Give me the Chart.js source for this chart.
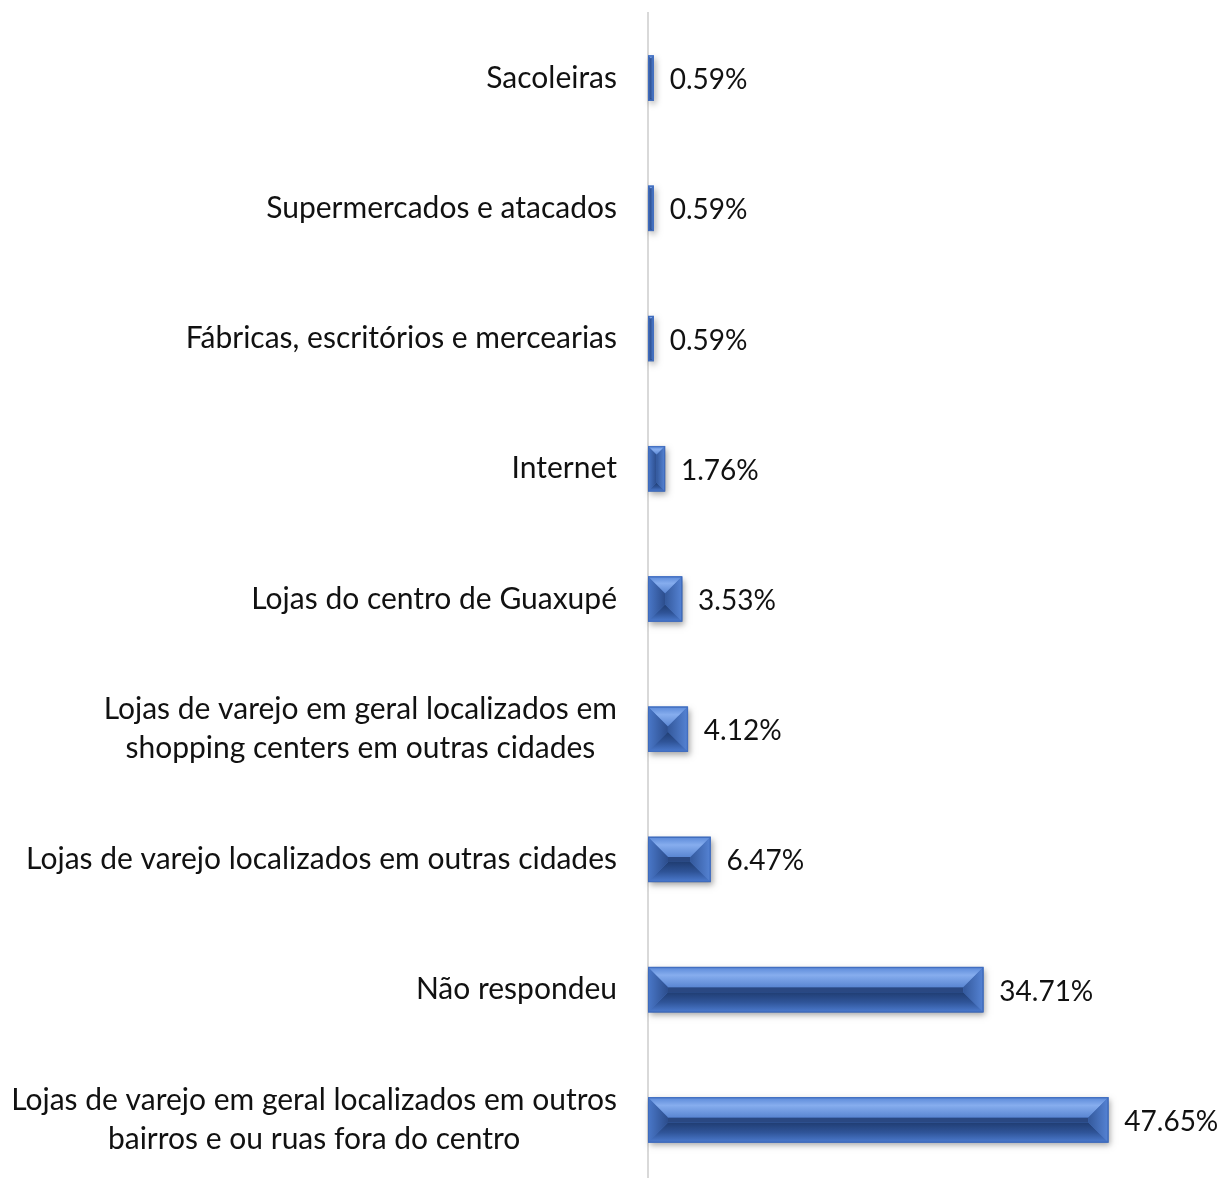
<!DOCTYPE html>
<html>
<head>
<meta charset="utf-8">
<script src="https://cdn.jsdelivr.net/npm/chart.js@4.4.0/dist/chart.umd.min.js"></script>
<style>
    html, body { margin: 0; padding: 0; background: #fff; overflow: hidden; }
    #box { position: absolute; left: 0; top: 0; width: 1224px; height: 1185px; }
</style>
</head>
<body>
<div id="box"><canvas id="grafico"></canvas></div>
<script>
// Categorias (de cima para baixo) e percentuais
const categorias = [
    ["Sacoleiras"],
    ["Supermercados e atacados"],
    ["Fábricas, escritórios e mercearias"],
    ["Internet"],
    ["Lojas do centro de Guaxupé"],
    ["Lojas de varejo em geral localizados em", "shopping centers em outras cidades"],
    ["Lojas de varejo localizados em outras cidades"],
    ["Não respondeu"],
    ["Lojas de varejo em geral localizados em outros", "bairros e ou ruas fora do centro"]
];
const percentuais = [0.59, 0.59, 0.59, 1.76, 3.53, 4.12, 6.47, 34.71, 47.65];
const eixoMin = 0;
const eixoMax = 50;

const FONTE_ROTULO = "30px Lato, 'Open Sans', sans-serif";
const FONTE_VALOR = "28px Lato, 'Open Sans', sans-serif";

// Rótulos das categorias: bloco alinhado à direita, linhas centralizadas
const rotulosCategorias = {
    id: "rotulosCategorias",
    afterDraw(chart) {
        const ctx = chart.ctx;
        const y = chart.scales.y;
        ctx.save();
        ctx.font = FONTE_ROTULO;
        ctx.fillStyle = "#111";
        ctx.textBaseline = "middle";
        ctx.textAlign = "center";
        const direita = 617;
        const altLinha = 39;
        categorias.forEach((linhas, i) => {
            const cy = y.getPixelForValue(i);
            const larg = Math.max(...linhas.map(l => ctx.measureText(l).width));
            const cx = direita - larg / 2;
            const y0 = cy - (linhas.length - 1) * altLinha / 2;
            linhas.forEach((l, k) => ctx.fillText(l, cx, y0 + k * altLinha));
        });
        ctx.restore();
    }
};

// Barras com efeito bisel + rótulo de valor
const biselBarras = {
    id: "biselBarras",
    afterDatasetsDraw(chart) {
        const ctx = chart.ctx;
        const meta = chart.getDatasetMeta(0);
        ctx.save();
        meta.data.forEach((bar, i) => {
            const x0 = bar.base, x1 = bar.x;
            const top = bar.y - bar.height / 2, bot = bar.y + bar.height / 2;
            const w = x1 - x0, h = bot - top;
            const b = Math.min(20, w / 2, h * 0.45);
            const meio = top + b;

            // base com sombra
            ctx.save();
            ctx.shadowColor = "rgba(0,0,0,0.35)";
            ctx.shadowBlur = 6;
            ctx.shadowOffsetX = 2;
            ctx.shadowOffsetY = 3;
            ctx.fillStyle = "#4472c4";
            ctx.fillRect(x0, top, w, h);
            ctx.restore();

            // faceta central (faixa fina)
            ctx.fillStyle = "#2a4882";
            ctx.fillRect(x0 + b, top + b, w - 2 * b, h - 2 * b);

            // faceta superior (clara)
            let g = ctx.createLinearGradient(0, top, 0, top + b);
            g.addColorStop(0, "#5b89d8");
            g.addColorStop(0.4, "#86adee");
            g.addColorStop(1, "#5a86d2");
            ctx.fillStyle = g;
            ctx.beginPath();
            ctx.moveTo(x0, top); ctx.lineTo(x1, top);
            ctx.lineTo(x1 - b, top + b); ctx.lineTo(x0 + b, top + b);
            ctx.closePath(); ctx.fill();

            // faceta inferior (escura)
            g = ctx.createLinearGradient(0, bot - b, 0, bot);
            g.addColorStop(0, "#203d72");
            g.addColorStop(0.5, "#2f5498");
            g.addColorStop(1, "#4c7bcf");
            ctx.fillStyle = g;
            ctx.beginPath();
            ctx.moveTo(x0, bot); ctx.lineTo(x1, bot);
            ctx.lineTo(x1 - b, bot - b); ctx.lineTo(x0 + b, bot - b);
            ctx.closePath(); ctx.fill();

            // faceta esquerda
            g = ctx.createLinearGradient(x0, 0, x0 + b, 0);
            g.addColorStop(0, "#4a78c9");
            g.addColorStop(1, "#2c4d8c");
            ctx.fillStyle = g;
            ctx.beginPath();
            ctx.moveTo(x0, top); ctx.lineTo(x0 + b, top + b);
            ctx.lineTo(x0 + b, bot - b); ctx.lineTo(x0, bot);
            ctx.closePath(); ctx.fill();

            // faceta direita
            g = ctx.createLinearGradient(x1, 0, x1 - b, 0);
            g.addColorStop(0, "#5583d4");
            g.addColorStop(1, "#34599c");
            ctx.fillStyle = g;
            ctx.beginPath();
            ctx.moveTo(x1, top); ctx.lineTo(x1 - b, top + b);
            ctx.lineTo(x1 - b, bot - b); ctx.lineTo(x1, bot);
            ctx.closePath(); ctx.fill();

            // contorno
            ctx.strokeStyle = "#3f6bbd";
            ctx.lineWidth = 1;
            ctx.strokeRect(x0 + 0.5, top + 0.5, w - 1, h - 1);

            // valor
            ctx.font = FONTE_VALOR;
            ctx.fillStyle = "#111";
            ctx.textAlign = "left";
            ctx.textBaseline = "middle";
            ctx.fillText(percentuais[i].toFixed(2) + "%", x1 + 16, bar.y + 2);
        });
        ctx.restore();
    }
};

new Chart(document.getElementById("grafico"), {
    type: "bar",
    data: {
        labels: categorias,
        datasets: [{
            data: percentuais,
            backgroundColor: "#4472c4",
            barThickness: 45
        }]
    },
    options: {
        indexAxis: "y",
        responsive: true,
        maintainAspectRatio: false,
        animation: false,
        layout: { padding: { top: 13, right: 93, bottom: 0, left: 0 } },
        plugins: {
            legend: { display: false },
            tooltip: { enabled: false }
        },
        scales: {
            x: { display: false, min: eixoMin, max: eixoMax },
            y: {
                ticks: { display: false },
                grid: { display: false },
                border: { display: true, color: "#d9d9d9", width: 2 },
                afterFit(scale) { scale.width = 648; }
            }
        }
    },
    plugins: [rotulosCategorias, biselBarras]
});
</script>
</body>
</html>
